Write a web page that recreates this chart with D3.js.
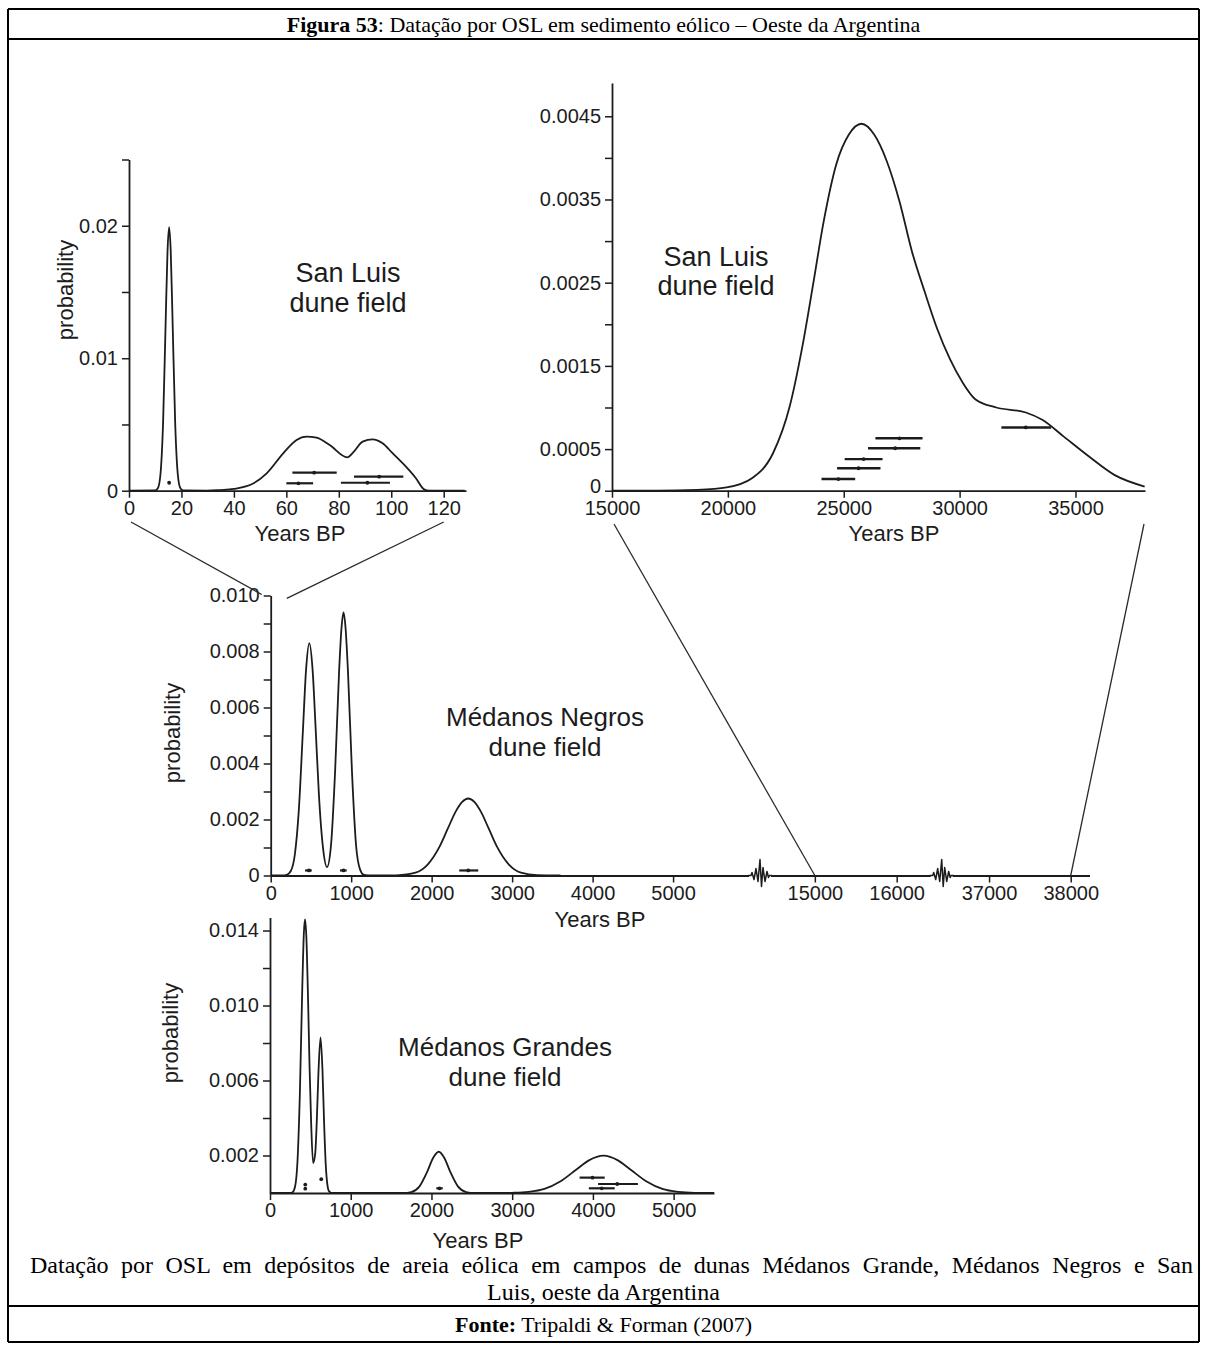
<!DOCTYPE html>
<html><head><meta charset="utf-8">
<script src="https://cdn.jsdelivr.net/npm/d3@7"></script>
<style>body{margin:0;background:#fff}svg{display:block}</style>
</head><body>
<svg id="c" width="1207" height="1347"></svg>
<script>
// ---------------- DATA ----------------
const titleBold = "Figura 53";
const titleRest = ": Datação por OSL em sedimento eólico – Oeste da Argentina";
const captionLines = ["Datação por OSL em depósitos de areia eólica em campos de dunas Médanos Grande, Médanos Negros e San",
                      "Luis, oeste da Argentina"];
const sourceBold = "Fonte:";
const sourceRest = " Tripaldi & Forman (2007)";

// San Luis dune field, young ages (0-120 yr)
const slYoungYears = [0, 10, 11, 12, 13, 14, 14.7, 15.3, 15.9, 16.6, 17.6, 18.6, 19.6, 20.6, 30, 34.8, 39.9, 47.5, 52.5, 58.8, 63.9, 67.7, 71.5, 76.5, 83.2, 85.4, 89.1, 92.9, 96.7, 100.5, 105.6, 109.4, 112.5, 114.4, 128];
const slYoungProb  = [0, 0.000015, 0.00018, 0.00124, 0.00516, 0.01293, 0.01815, 0.0199, 0.01815, 0.01293, 0.00516, 0.00124, 0.00018, 0.000015, 0, 0.00005, 0.00013, 0.00056, 0.00131, 0.00282, 0.00383, 0.00408, 0.004, 0.00345, 0.00252, 0.00287, 0.0037, 0.00388, 0.00358, 0.00283, 0.00181, 0.00094, 0.0001, 0, 0];
const slYoungBarLo  = [15.3, 62.3, 60.0, 85.8, 80.8];
const slYoungBarHi  = [15.3, 79.2, 70.2, 104.6, 99.5];
const slYoungBarMid = [15.3, 70.6, 64.6, 95.4, 90.9];
const slYoungBarP   = [0.0006, 0.00136, 0.00056, 0.00106, 0.0006];
const slYoungYTicks = [0, 0.01, 0.02];
const slYoungYMinor = [0.005, 0.015, 0.025];
const slYoungXTicks = [0, 20, 40, 60, 80, 100, 120];

// San Luis dune field, old ages (15000-38000 yr)
const slOldYears = [15000, 17000, 18676, 19948, 21039, 21948, 22675, 23220, 23673, 24131, 24676, 25222, 25767, 26313, 26858, 27403, 27949, 28494, 29040, 29585, 30131, 30676, 31585, 32858, 33585, 34494, 35585, 36676, 37985];
const slOldProb  = [0, 0, 0.00001, 0.00004, 0.00015, 0.00045, 0.00102, 0.00174, 0.00247, 0.00323, 0.00392, 0.00428, 0.00441, 0.00428, 0.00396, 0.00348, 0.00287, 0.00239, 0.00194, 0.00158, 0.0013, 0.0011, 0.001, 0.00094, 0.00085, 0.00065, 0.00041, 0.00019, 0.00005];
const slOldBarLo  = [26367, 26049, 25040, 24713, 24040, 31803];
const slOldBarHi  = [28401, 28303, 26676, 26586, 25494, 33949];
const slOldBarMid = [27403, 27221, 25858, 25640, 24767, 32858];
const slOldBarP   = [0.00063, 0.00051, 0.00038, 0.00027, 0.00014, 0.00076];
const slOldYTicks = [0, 0.0005, 0.0015, 0.0025, 0.0035, 0.0045];
const slOldYMinor = [0.001, 0.002, 0.003, 0.004];
const slOldXTicks = [15000, 20000, 25000, 30000, 35000];

// Médanos Negros dune field
const negYears = [0, 150, 200, 250, 300, 350, 400, 440, 480, 520, 560, 600, 650, 700, 750, 800, 850, 880, 905, 930, 960, 1010, 1060, 1110, 1160, 1250, 1500, 1600, 1800, 1950, 2100, 2200, 2300, 2380, 2455, 2530, 2610, 2710, 2810, 2960, 3110, 3310, 3600];
const negProb  = [0, 0, 0.000025, 0.00016, 0.00075, 0.00236, 0.00516, 0.00737, 0.0083, 0.00737, 0.00516, 0.00284, 0.00099, 0.0003, 0.0011, 0.0037, 0.0073, 0.00885, 0.0094, 0.00885, 0.0073, 0.0037, 0.0011, 0.00022, 0.00002, 0, 0, 0.00001, 0.0001, 0.00039, 0.00104, 0.00167, 0.00229, 0.00263, 0.00275, 0.00263, 0.00229, 0.00167, 0.00104, 0.00039, 0.0001, 0.00001, 0];
const negBarLo  = [427, 861, 2343];
const negBarHi  = [510, 944, 2579];
const negBarMid = [476, 905, 2455];
const negBarP   = [0.00018, 0.00018, 0.00018];
const negYTicks = [0, 0.002, 0.004, 0.006, 0.008, 0.010];
const negYMinor = [0.001, 0.003, 0.005, 0.007, 0.009];
const negXTicks = [0, 1000, 2000, 3000, 4000, 5000, 15000, 16000, 37000, 38000];
const negAxisSegments = [0, 6080, 14330, 16550, 36420, 38230]; // broken axis: segment limits (years)
const negAxisBreaks = [6080, 16550];

// Médanos Grandes dune field
const graYears = [0, 250, 280, 310, 340, 370, 400, 420, 434, 450, 470, 490, 510, 534, 560, 580, 600, 626, 650, 670, 690, 710, 730, 760, 1000, 1650, 1750, 1850, 1950, 2020, 2091, 2160, 2230, 2330, 2430, 2530, 2900, 3000, 3200, 3400, 3600, 3800, 3950, 4132, 4310, 4460, 4660, 4860, 5060, 5260, 5500];
const graProb  = [0, 0, 0.00004, 0.00033, 0.00165, 0.00531, 0.01097, 0.01391, 0.0146, 0.0137, 0.0106, 0.00674, 0.0037, 0.0016, 0.0021, 0.0039, 0.0064, 0.0083, 0.00656, 0.00377, 0.00156, 0.00047, 0.0001, 0.00001, 0, 0, 0.00005, 0.00034, 0.00116, 0.00187, 0.0022, 0.00187, 0.00116, 0.00034, 0.00005, 0, 0, 0.00001, 0.00006, 0.00022, 0.00063, 0.00127, 0.00174, 0.00199, 0.00174, 0.00127, 0.00063, 0.00022, 0.00006, 0.00001, 0];
const graBarLo  = [437, 437, 635, 2060, 3835, 4064, 3950];
const graBarHi  = [437, 437, 635, 2140, 4146, 4557, 4270];
const graBarMid = [437, 437, 635, 2100, 3995, 4301, 4109];
const graBarP   = [0.00045, 0.00023, 0.00074, 0.00025, 0.00082, 0.00048, 0.00025];
const graYTicks = [0.002, 0.006, 0.010, 0.014];
const graYMinor = [0.004, 0.008, 0.012];
const graXTicks = [0, 1000, 2000, 3000, 4000, 5000];

// ---------------- DRAW ----------------
const svg = d3.select("#c");
const ink = "#1c1c1c";
const sans = "'Liberation Sans', Arial, Helvetica, sans-serif";
const serif = "'Liberation Serif', 'Times New Roman', Times, serif";

// frame of the table
const F = {l: 8, r: 1199, t: 9, b: 1342, titleLine: 39, srcLine: 1306};
svg.append("g").attr("stroke", "#000").attr("stroke-width", 2)
  .selectAll("line")
  .data([[F.l, F.t, F.r, F.t], [F.l, F.titleLine, F.r, F.titleLine], [F.l, F.srcLine, F.r, F.srcLine],
         [F.l, F.b, F.r, F.b], [F.l, F.t, F.l, F.b], [F.r, F.t, F.r, F.b]])
  .join("line")
  .attr("x1", d => d[0]).attr("y1", d => d[1]).attr("x2", d => d[2]).attr("y2", d => d[3]);

const cx = (F.l + F.r) / 2;
const tt = svg.append("text").attr("x", cx).attr("y", 31.5).attr("text-anchor", "middle")
  .style("font-family", serif).style("font-size", "22px").attr("fill", "#000");
tt.append("tspan").attr("font-weight", "bold").text(titleBold);
tt.append("tspan").text(titleRest);

// caption: first line spread across the cell, last line centred
const cap1 = svg.append("text").attr("x", 30).attr("y", 1273)
  .style("font-family", serif).style("font-size", "24px").attr("fill", "#000").text(captionLines[0]);
const natural = cap1.node().getComputedTextLength();
const nSpaces = captionLines[0].split(" ").length - 1;
cap1.style("word-spacing", Math.max(0, (1163 - natural) / nSpaces) + "px");
svg.append("text").attr("x", cx).attr("y", 1300).attr("text-anchor", "middle")
  .style("font-family", serif).style("font-size", "24px").attr("fill", "#000").text(captionLines[1]);

const st = svg.append("text").attr("x", cx).attr("y", 1332).attr("text-anchor", "middle")
  .style("font-family", serif).style("font-size", "22px").attr("fill", "#000");
st.append("tspan").attr("font-weight", "bold").text(sourceBold);
st.append("tspan").text(sourceRest);

// helpers
function styleAxis(g, fs) {
  g.select(".domain").attr("stroke", ink).attr("stroke-width", 1.8);
  g.selectAll(".tick line").attr("stroke", ink).attr("stroke-width", 1.5);
  g.selectAll(".tick text").attr("fill", ink).style("font-family", sans).style("font-size", fs + "px");
}
function fmt(dec) { return d => d === 0 ? "0" : d3.format("." + dec + "f")(d); }

function yAxis(scale, x, ticks, minor, dec, fs) {
  const g = svg.append("g").attr("transform", `translate(${x},0)`)
    .call(d3.axisLeft(scale).tickValues(ticks).tickFormat(fmt(dec)).tickSize(7).tickSizeOuter(0).tickPadding(4));
  styleAxis(g, fs);
  const m = svg.append("g").attr("transform", `translate(${x},0)`)
    .call(d3.axisLeft(scale).tickValues(minor).tickFormat("").tickSize(7).tickSizeOuter(0));
  m.select(".domain").remove();
  m.selectAll(".tick line").attr("stroke", ink).attr("stroke-width", 1.5);
  return g;
}
function xAxis(scale, y, ticks, fs) {
  const g = svg.append("g").attr("transform", `translate(0,${y})`)
    .call(d3.axisBottom(scale).tickValues(ticks).tickFormat(d => String(d)).tickSize(7).tickSizeOuter(0).tickPadding(3));
  styleAxis(g, fs);
  return g;
}
function curve(xs, ys, X, Y) {
  const pts = xs.map((v, i) => [v, ys[i]]);
  svg.append("path").datum(pts)
    .attr("d", d3.line().x(d => X(d[0])).y(d => Y(d[1])).curve(d3.curveMonotoneX))
    .attr("fill", "none").attr("stroke", ink).attr("stroke-width", 1.8).attr("stroke-linejoin", "round");
}
function bars(lo, hi, mid, p, X, Y, w) {
  const g = svg.append("g");
  lo.forEach((v, i) => {
    if (hi[i] > v) {
      g.append("line").attr("x1", X(v)).attr("x2", X(hi[i])).attr("y1", Y(p[i])).attr("y2", Y(p[i]))
        .attr("stroke", ink).attr("stroke-width", w);
    }
    g.append("circle").attr("cx", X(mid[i])).attr("cy", Y(p[i])).attr("r", 1.9).attr("fill", ink);
  });
}
function label(txt, x, y, fs, rot) {
  const t = svg.append("text").attr("text-anchor", "middle").style("font-family", sans)
    .style("font-size", fs + "px").attr("fill", ink).text(txt);
  if (rot) t.attr("transform", `translate(${x},${y}) rotate(-90)`).attr("dy", "0.35em");
  else t.attr("x", x).attr("y", y).attr("dy", "0.35em");
}

// ---- Panel A: San Luis young ----
const xA = d3.scaleLinear().domain([0, 128.5]).range([129, 466]);
const yA = d3.scaleLinear().domain([0, 0.025]).range([490.7, 159.5]);
curve(slYoungYears, slYoungProb, xA, yA);
bars(slYoungBarLo, slYoungBarHi, slYoungBarMid, slYoungBarP, xA, yA, 2.2);
yAxis(yA, xA(0), slYoungYTicks, slYoungYMinor, 2, 20);
xAxis(xA, yA(0), slYoungXTicks, 20);
label("probability", 65, 290, 22, true);
label("Years BP", 300, 533, 22);
label("San Luis", 348, 273, 27);
label("dune field", 348, 303, 27);

// ---- Panel B: San Luis old ----
const xB = d3.scaleLinear().domain([15000, 38000]).range([612, 1145]);
const yB = d3.scaleLinear().domain([0, 0.0049]).range([490.7, 83]);
curve(slOldYears, slOldProb, xB, yB);
bars(slOldBarLo, slOldBarHi, slOldBarMid, slOldBarP, xB, yB, 2.4);
const gyB = yAxis(yB, xB(15000), slOldYTicks, slOldYMinor, 4, 20);
gyB.selectAll(".tick text").filter(d => d === 0).attr("dy", "0.1em");
xAxis(xB, yB(0), slOldXTicks, 20);
label("Years BP", 894, 533, 22);
label("San Luis", 716, 257, 27);
label("dune field", 716, 286, 27);

// ---- Panel C: Médanos Negros (broken axis) ----
const xC = d3.scaleLinear().domain(negAxisSegments).range([270.7, 760, 760, 941.7, 941.7, 1089.5]);
const yC = d3.scaleLinear().domain([0, 0.010]).range([875.5, 595.5]);
curve(negYears, negProb, xC, yC);
bars(negBarLo, negBarHi, negBarMid, negBarP, xC, yC, 2.2);
yAxis(yC, xC(0), negYTicks, negYMinor, 3, 20);
xAxis(xC, yC(0), negXTicks, 20);
// break symbols on the axis
const brk = [[-12, 0], [-9, 0], [-8, -3], [-6, 4], [-4, -7], [-2, 6], [0, -16], [1.5, 11], [3, -8], [5, 6], [7, -4], [8.5, 2], [9.5, 0], [12, 0]];
negAxisBreaks.forEach(b => {
  svg.append("rect").attr("x", xC(b) - 11).attr("y", yC(0) - 1.5).attr("width", 22).attr("height", 3).attr("fill", "#fff");
  svg.append("path")
    .attr("d", d3.line().x(d => xC(b) + d[0]).y(d => yC(0) + d[1])(brk))
    .attr("fill", "none").attr("stroke", ink).attr("stroke-width", 1.5).attr("stroke-linejoin", "round");
});
label("probability", 172, 733, 22, true);
label("Years BP", 600, 919, 22);
label("Médanos Negros", 545, 717, 26);
label("dune field", 545, 747, 26);

// ---- Panel D: Médanos Grandes ----
const xD = d3.scaleLinear().domain([0, 5500]).range([270, 714]);
const yD = d3.scaleLinear().domain([0, 0.0147]).range([1193, 917.4]);
curve(graYears, graProb, xD, yD);
bars(graBarLo, graBarHi, graBarMid, graBarP, xD, yD, 2.2);
yAxis(yD, xD(0), graYTicks, graYMinor, 3, 20);
xAxis(xD, yD(0), graXTicks, 20);
label("probability", 170, 1033, 22, true);
label("Years BP", 478, 1240, 22);
label("Médanos Grandes", 505, 1047, 26);
label("dune field", 505, 1077, 26);

// ---- connector (zoom) lines ----
const conn = [
  [xA(0) + 2, 522, xC(0) - 9, yC(0.010) - 1],
  [xA(120), 522, xC(200), yC(0.0099)],
  [xB(15000) + 2, 524, xC(15000), yC(0)],
  [xB(38000) - 1, 524, xC(38000), yC(0)]
];
svg.append("g").selectAll("line").data(conn).join("line")
  .attr("x1", d => d[0]).attr("y1", d => d[1]).attr("x2", d => d[2]).attr("y2", d => d[3])
  .attr("stroke", "#2a2a2a").attr("stroke-width", 1.3);
</script>
</body></html>
